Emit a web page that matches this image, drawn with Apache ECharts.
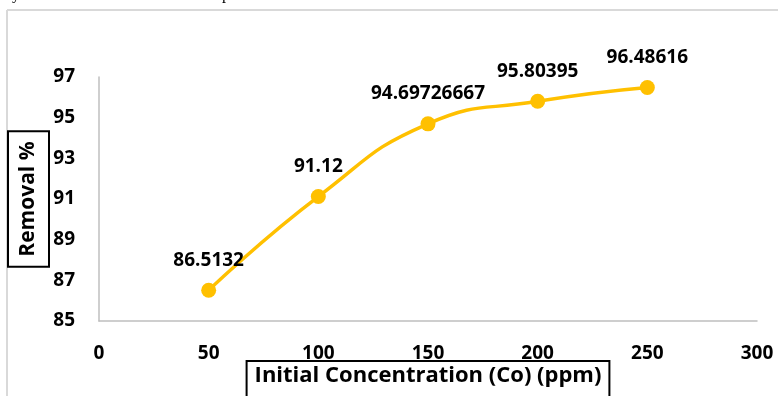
<!DOCTYPE html>
<html>
<head>
<meta charset="utf-8">
<script src="https://cdn.jsdelivr.net/npm/echarts@6/dist/echarts.min.js"></script>
<style>
html,body{margin:0;padding:0;background:#fff;}
#chart{width:778px;height:396px;}
</style>
</head>
<body>
<div id="chart"></div>
<script>
const concentrations = [50, 100, 150, 200, 250];
const removal = [86.5132, 91.12, 94.69726667, 95.80395, 96.48616];
const removalLabels = ['86.5132', '91.12', '94.69726667', '95.80395', '96.48616'];
const xAxisTitle = 'Initial Concentration (Co) (ppm)';
const yAxisTitle = 'Removal %';

const chart = echarts.init(document.getElementById('chart'), null, {renderer: 'canvas'});
const FONT = '"Open Sans"';
const option = {
  animation: false,
  backgroundColor: '#ffffff',
  grid: {left: 99, right: 21, top: 77, bottom: 75, outerBoundsMode: 'none', containLabel: false},
  xAxis: {
    type: 'value', min: 0, max: 300, interval: 50,
    name: xAxisTitle, nameLocation: 'middle', nameGap: 40, nameMoveOverlap: false,
    nameTextStyle: {fontFamily: FONT, fontWeight: 'bold', fontSize: 22, color: '#000',
      borderColor: '#000', borderWidth: 2, padding: [4, 8, 16, 8]},
    axisLine: {show: true, lineStyle: {color: '#bfbfbf', width: 1.5}},
    axisTick: {show: false},
    splitLine: {show: false},
    axisLabel: {fontFamily: FONT, fontWeight: 'bold', fontSize: 19, color: '#000', margin: 23}
  },
  yAxis: {
    type: 'value', min: 85, max: 97, interval: 2,
    name: yAxisTitle, nameLocation: 'middle', nameGap: 50, nameMoveOverlap: false,
    nameTextStyle: {fontFamily: FONT, fontWeight: 'bold', fontSize: 21, color: '#000',
      borderColor: '#000', borderWidth: 2, padding: [10, 10, 10, 10]},
    axisLine: {show: true, lineStyle: {color: '#bfbfbf', width: 1.5}},
    axisTick: {show: false},
    splitLine: {show: false},
    axisLabel: {fontFamily: FONT, fontWeight: 'bold', fontSize: 19, color: '#000', margin: 24}
  },
  series: [{
    type: 'line',
    data: concentrations.map((c, i) => [c, removal[i]]),
    smooth: 0.5,
    symbol: 'circle', symbolSize: 15,
    lineStyle: {color: '#FFC000', width: 3.5},
    itemStyle: {color: '#FFC000'},
    label: {
      show: true, position: 'top', distance: 13,
      fontFamily: FONT, fontWeight: 'bold', fontSize: 19, color: '#000',
      formatter: p => removalLabels[p.dataIndex]
    }
  }],
  graphic: [
    {type: 'line', shape: {x1: 7, y1: 10, x2: 778, y2: 10}, style: {stroke: '#d9d9d9', lineWidth: 2}},
    {type: 'line', shape: {x1: 7, y1: 10, x2: 7, y2: 396}, style: {stroke: '#d9d9d9', lineWidth: 2}},
    {type: 'text', left: 12, top: -13, style: {text: 'y', font: '16px "Liberation Serif"', fill: '#000'}},
    {type: 'text', left: 222, top: -13, style: {text: 'p', font: '16px "Liberation Serif"', fill: '#000'}}
  ]
};
chart.setOption(option);
</script>
</body>
</html>
